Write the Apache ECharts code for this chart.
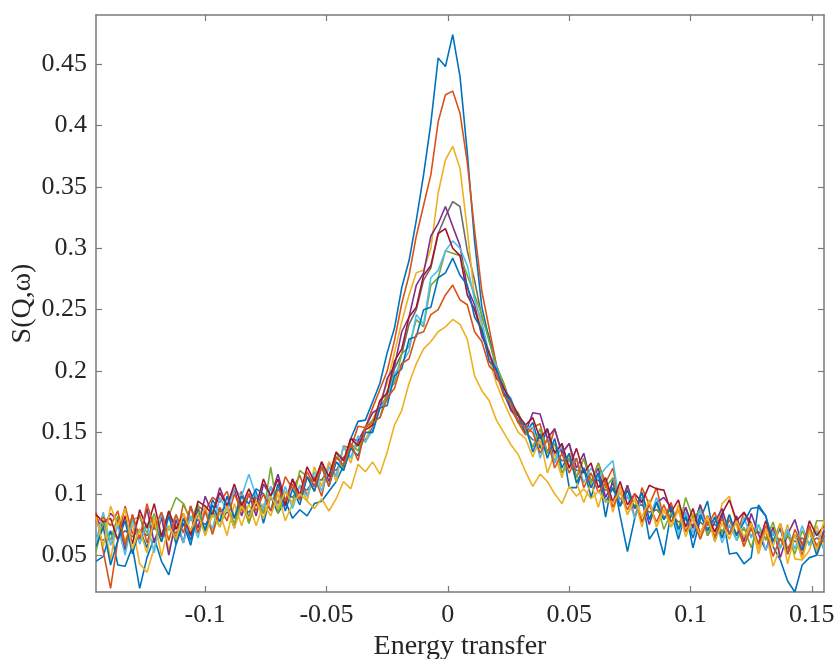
<!DOCTYPE html>
<html>
<head>
<meta charset="utf-8">
<script src="https://cdn.jsdelivr.net/npm/echarts@6/dist/echarts.min.js"></script>
<style>
  html, body { margin: 0; padding: 0; background: #fff; }
  #chart { width: 837px; height: 659px; }
</style>
</head>
<body>
<div id="chart"></div>
<script>
// energy transfer grid (x)
const energy = [
  -0.145, -0.142, -0.139, -0.136, -0.133, -0.130, -0.127, -0.124, -0.121, -0.118,
  -0.115, -0.112, -0.109, -0.106, -0.103, -0.100, -0.097, -0.094, -0.091, -0.088,
  -0.085, -0.082, -0.079, -0.076, -0.073, -0.070, -0.067, -0.064, -0.061, -0.058,
  -0.055, -0.052, -0.049, -0.046, -0.043, -0.040, -0.037, -0.034, -0.031, -0.028,
  -0.025, -0.022, -0.019, -0.016, -0.013, -0.010, -0.007, -0.004, -0.001, 0.002,
  0.005, 0.008, 0.011, 0.014, 0.017, 0.020, 0.023, 0.026, 0.029, 0.032,
  0.035, 0.038, 0.041, 0.044, 0.047, 0.050, 0.053, 0.056, 0.059, 0.062,
  0.065, 0.068, 0.071, 0.074, 0.077, 0.080, 0.083, 0.086, 0.089, 0.092,
  0.095, 0.098, 0.101, 0.104, 0.107, 0.110, 0.113, 0.116, 0.119, 0.122,
  0.125, 0.128, 0.131, 0.134, 0.137, 0.140, 0.143, 0.146, 0.149, 0.152, 0.155
];

// S(Q,w) curves, values in units of 1e-3
const sBlue1 = [
  45, 49, 70, 42, 41, 57, 23, 48, 64, 45,
  34, 59, 80, 62, 88, 70, 95, 85, 90, 72,
  102, 80, 102, 76, 98, 84, 94, 80, 87, 82,
  92, 94, 102, 110, 123, 145, 159, 160, 175, 190,
  215, 235, 268, 290, 323, 360, 402, 455, 448, 474,
  440, 378, 306, 252, 226, 202, 182, 168, 160, 150,
  158, 137, 153, 125, 141, 105, 105, 121, 97, 117,
  81, 113, 82, 53, 80, 97, 63, 72, 50, 85,
  63, 85, 56, 79, 94, 61, 84, 51, 52, 43,
  48, 91, 82, 57, 46, 29, 20, 42, 48, 50, 70
];
const sOrange1 = [
  85, 53, 23, 62, 90, 67, 83, 60, 80, 65,
  86, 63, 92, 78, 90, 86, 97, 93, 102, 80,
  102, 76, 98, 84, 106, 92, 114, 104, 115, 98,
  114, 98, 126, 114, 139, 137, 155, 154, 170, 185,
  200, 225, 255, 278, 310, 335, 360, 403, 425, 428,
  410, 370, 315, 265, 235, 205, 185, 170, 158, 148,
  154, 157, 133, 153, 133, 141, 113, 129, 109, 125,
  109, 121, 90, 107, 80, 105, 91, 105, 79, 93,
  71, 89, 72, 91, 74, 85, 64, 79, 66, 85,
  72, 55, 74, 61, 76, 55, 67, 50, 70, 58, 66
];
const sYellow1 = [
  57, 81, 46, 80, 62, 75, 43, 36, 56, 81,
  54, 75, 60, 82, 68, 90, 67, 85, 66, 92,
  74, 92, 74, 92, 82, 100, 78, 92, 107, 94,
  122, 106, 126, 110, 139, 125, 147, 142, 160, 175,
  190, 215, 240, 262, 280, 282, 300, 345, 372, 383,
  365, 315, 260, 235, 210, 190, 175, 162, 150, 145,
  130, 145, 117, 133, 113, 133, 109, 93, 109, 89,
  109, 85, 106, 83, 96, 73, 95, 73, 87, 73,
  91, 69, 84, 63, 82, 65, 92, 98, 74, 57,
  76, 51, 70, 41, 56, 75, 47, 46, 54, 74, 58
];
const sPurple = [
  79, 73, 84, 78, 54, 83, 63, 88, 60, 81,
  50, 79, 60, 90, 72, 98, 83, 105, 90, 104,
  82, 100, 82, 108, 98, 116, 94, 112, 95, 114,
  106, 126, 110, 130, 123, 145, 143, 154, 166, 170,
  194, 204, 232, 244, 270, 280, 310, 320, 334, 318,
  302, 268, 254, 228, 216, 194, 188, 168, 164, 150,
  166, 165, 145, 153, 133, 141, 121, 133, 109, 121,
  97, 109, 90, 107, 88, 97, 75, 93, 97, 89,
  71, 89, 72, 91, 66, 77, 88, 67, 82, 61,
  84, 67, 54, 73, 48, 67, 79, 58, 74, 54, 70
];
const sGreen = [
  53, 77, 62, 82, 58, 79, 81, 68, 84, 61,
  82, 97, 92, 78, 92, 66, 87, 73, 90, 76,
  94, 76, 94, 84, 122, 84, 102, 92, 119, 114,
  102, 122, 114, 134, 119, 141, 135, 154, 160, 162,
  184, 190, 214, 220, 242, 236, 270, 276, 298, 296,
  294, 278, 262, 246, 224, 204, 190, 172, 166, 152,
  138, 153, 133, 141, 117, 129, 113, 129, 109, 125,
  105, 113, 90, 103, 88, 101, 79, 93, 71, 85,
  71, 97, 80, 87, 66, 81, 68, 83, 62, 73,
  56, 75, 62, 77, 56, 67, 51, 70, 58, 78, 78
];
const sCyan = [
  61, 85, 58, 74, 50, 79, 59, 76, 52, 85,
  70, 83, 60, 82, 64, 86, 71, 97, 86, 104,
  98, 116, 98, 88, 106, 88, 106, 88, 107, 98,
  118, 102, 122, 114, 139, 129, 147, 142, 152, 170,
  176, 198, 206, 216, 246, 238, 276, 282, 298, 306,
  300, 286, 258, 240, 214, 204, 184, 178, 158, 154,
  154, 129, 145, 125, 141, 121, 129, 109, 121, 113,
  121, 127, 90, 99, 80, 97, 79, 97, 79, 89,
  67, 85, 68, 87, 70, 81, 60, 75, 62, 81,
  64, 75, 54, 69, 56, 71, 55, 74, 58, 70, 54
];
const sRed = [
  83, 77, 80, 62, 82, 59, 87, 72, 92, 65,
  86, 71, 84, 66, 94, 90, 83, 101, 90, 108,
  90, 104, 90, 112, 98, 112, 90, 112, 99, 122,
  110, 126, 114, 134, 127, 145, 139, 152, 156, 176,
  182, 208, 218, 244, 252, 278, 286, 312, 316, 300,
  294, 262, 250, 232, 214, 200, 186, 176, 164, 156,
  162, 145, 153, 133, 141, 121, 137, 117, 125, 105,
  113, 93, 110, 91, 100, 93, 107, 104, 103, 85,
  95, 73, 88, 67, 82, 69, 84, 95, 78, 85,
  76, 59, 78, 61, 72, 51, 67, 54, 78, 66, 74
];
const sBlue2 = [
  57, 73, 42, 62, 78, 51, 71, 56, 76, 61,
  82, 59, 76, 58, 84, 70, 91, 77, 98, 80,
  98, 92, 104, 100, 86, 108, 86, 104, 91, 114,
  102, 122, 106, 126, 119, 137, 131, 150, 150, 170,
  172, 196, 202, 226, 228, 250, 252, 276, 280, 292,
  278, 270, 244, 234, 208, 202, 182, 176, 158, 156,
  134, 149, 129, 145, 121, 133, 109, 121, 105, 117,
  93, 105, 90, 103, 88, 101, 79, 93, 79, 89,
  71, 81, 64, 83, 70, 81, 64, 83, 66, 77,
  88, 89, 82, 61, 72, 51, 67, 54, 70, 50, 66
];
const sOrange2 = [
  77, 81, 74, 86, 58, 83, 63, 92, 72, 85,
  62, 83, 68, 90, 68, 86, 67, 89, 78, 100,
  86, 100, 86, 100, 86, 104, 94, 108, 95, 118,
  106, 122, 106, 130, 123, 141, 127, 154, 158, 162,
  178, 186, 206, 210, 230, 232, 246, 250, 262, 270,
  258, 254, 232, 224, 204, 198, 180, 174, 158, 154,
  150, 133, 145, 121, 133, 117, 129, 105, 117, 101,
  109, 89, 102, 87, 100, 77, 91, 77, 91, 77,
  87, 69, 80, 63, 78, 65, 80, 67, 78, 57,
  72, 59, 70, 49, 64, 51, 71, 58, 74, 54, 66
];
const sYellow2 = [
  81, 57, 90, 74, 88, 55, 71, 52, 80, 49,
  74, 63, 84, 70, 84, 66, 83, 73, 90, 72,
  90, 80, 94, 80, 98, 88, 102, 92, 100, 94,
  88, 96, 86, 96, 110, 104, 124, 118, 126, 116,
  134, 156, 168, 190, 206, 218, 224, 232, 236, 242,
  238, 226, 196, 184, 176, 160, 150, 140, 132, 118,
  106, 116, 110, 100, 92, 106, 98, 104, 96, 102,
  94, 93, 102, 83, 96, 81, 95, 73, 87, 73,
  87, 65, 80, 67, 82, 61, 76, 63, 78, 65,
  76, 55, 70, 57, 76, 43, 67, 46, 70, 54, 78
];
const sGray = [
  66, 62, 69, 64, 70, 65, 71, 66, 72, 67,
  73, 68, 76, 71, 79, 75, 82, 78, 85, 81,
  89, 85, 93, 89, 97, 93, 101, 97, 106, 103,
  113, 111, 121, 119, 130, 130, 142, 144, 154, 170,
  180, 202, 214, 238, 250, 274, 284, 312, 326, 338,
  334, 298, 274, 244, 228, 204, 190, 172, 164, 150,
  144, 143, 135, 135, 127, 127, 119, 119, 111, 111,
  103, 103, 96, 97, 90, 91, 85, 87, 81, 83,
  77, 79, 74, 77, 72, 75, 70, 73, 68, 71,
  66, 69, 64, 67, 62, 65, 61, 64, 60, 64, 61
];

const xTicks = [-0.1, -0.05, 0, 0.05, 0.1, 0.15];
const yTicks = [0.05, 0.1, 0.15, 0.2, 0.25, 0.3, 0.35, 0.4, 0.45];

// draw order (first = bottom) and matlab colours
const curves = [
  { d: sGray, c: '#6b6b6b' },
  { d: sBlue1, c: '#0072BD' },
  { d: sOrange1, c: '#D95319' },
  { d: sYellow1, c: '#EDB120' },
  { d: sPurple, c: '#7E2F8E' },
  { d: sGreen, c: '#77AC30' },
  { d: sCyan, c: '#4DBEEE' },
  { d: sRed, c: '#A2142F' },
  { d: sBlue2, c: '#0072BD' },
  { d: sOrange2, c: '#D95319' },
  { d: sYellow2, c: '#EDB120' }
];

const font = 'Liberation Serif';
const axisCol = '#7a7a7a';
const txtCol = '#262626';

const chart = echarts.init(document.getElementById('chart'));

function boxAxis(pos, min, max, ticks) {
  return {
    type: 'value', position: pos, min: min, max: max,
    axisLine: { onZero: false, lineStyle: { color: axisCol, width: 1.5 } },
    axisTick: { inside: true, length: 6, customValues: ticks, lineStyle: { color: axisCol, width: 1.2 } },
    axisLabel: { show: false },
    splitLine: { show: false }
  };
}

chart.setOption({
  animation: false,
  backgroundColor: '#fff',
  grid: { left: 96, right: 13, top: 15, bottom: 67, outerBoundsMode: 'none' },
  xAxis: [
    {
      type: 'value', position: 'bottom', min: -0.145, max: 0.155,
      name: 'Energy transfer', nameLocation: 'middle', nameGap: 41, nameMoveOverlap: false,
      nameTextStyle: { fontFamily: font, fontSize: 28, color: txtCol },
      axisLine: { onZero: false, lineStyle: { color: axisCol, width: 1.5 } },
      axisTick: { inside: true, length: 6, customValues: xTicks, lineStyle: { color: axisCol, width: 1.2 } },
      axisLabel: { customValues: xTicks, margin: 10, fontFamily: font, fontSize: 26, color: txtCol,
        formatter: v => String(v) },
      splitLine: { show: false }
    },
    boxAxis('top', -0.145, 0.155, xTicks)
  ],
  yAxis: [
    {
      type: 'value', position: 'left', min: 0.02, max: 0.49,
      name: 'S(Q,ω)', nameLocation: 'middle', nameGap: 59, nameMoveOverlap: false,
      nameTextStyle: { fontFamily: font, fontSize: 28, color: txtCol },
      axisLine: { onZero: false, lineStyle: { color: axisCol, width: 1.5 } },
      axisTick: { inside: true, length: 6, customValues: yTicks, lineStyle: { color: axisCol, width: 1.2 } },
      axisLabel: { customValues: yTicks, margin: 9, fontFamily: font, fontSize: 26, color: txtCol,
        formatter: v => String(v) },
      splitLine: { show: false }
    },
    boxAxis('right', 0.02, 0.49, yTicks)
  ],
  series: curves.map(s => ({
    type: 'line',
    xAxisIndex: 0,
    yAxisIndex: 0,
    showSymbol: false,
    symbol: 'none',
    clip: true,
    lineStyle: { color: s.c, width: 1.6 },
    data: energy.map((x, i) => [x, s.d[i] / 1000])
  }))
});

window.onresize = function () {
  chart.resize();
};
</script>
</body>
</html>
